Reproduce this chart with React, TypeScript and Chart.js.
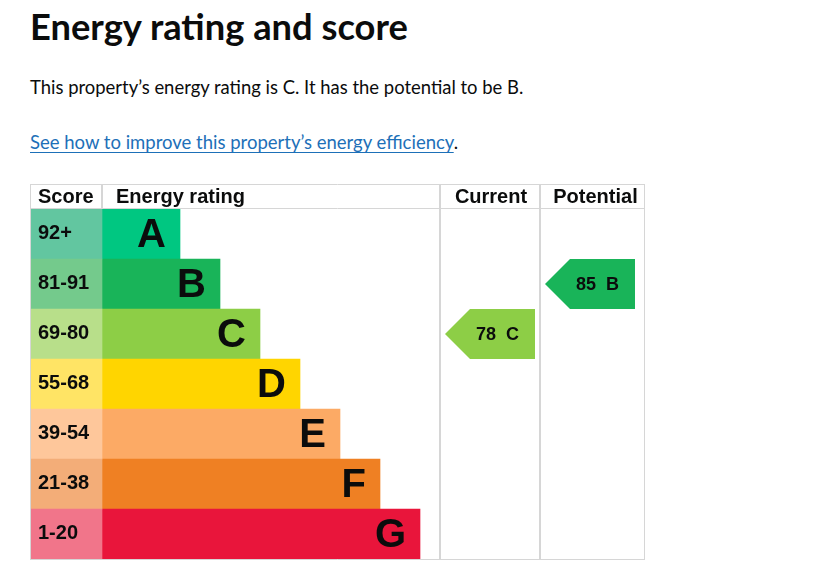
import React, { useEffect, useRef } from "react";
import { Chart, registerables } from "chart.js";

Chart.register(...registerables);

// ---- data ----
const ratings = ["A", "B", "C", "D", "E", "F", "G"];
const scoreRanges = ["92+", "81-91", "69-80", "55-68", "39-54", "21-38", "1-20"];
const bandMin = [92, 81, 69, 55, 39, 21, 1];
const barLengths = [78, 118, 158, 198, 238, 278, 318];
const bandColors = ["#00c781", "#19b459", "#8dce46", "#ffd500", "#fcaa65", "#ef8023", "#e9153b"];
const scoreColors = ["#62c6a0", "#74ca8c", "#b8df8a", "#ffe465", "#fec79b", "#f3ad78", "#f1758a"];
const currentScore = 78;
const potentialScore = 85;
const headers = ["Score", "Energy rating", "Current", "Potential"];

// ---- layout (x units == px) ----
const TABLE_W = 615;
const SCORE_COL = 72;
const CUR_COL = [410, 510];
const POT_COL = [510, 615];
const ARROW_W = 90;
const HEADER_H = 25;
const FONT = "Arial, 'Liberation Sans', sans-serif";

function bandIndex(score: number) {
  return bandMin.findIndex((m) => score >= m);
}

const tablePlugin = {
  id: "epcTable",
  afterDatasetsDraw(chart: any) {
    const { ctx, chartArea, scales } = chart;
    const x = scales.x;
    const y = scales.y;
    const px = (v: number) => x.getPixelForValue(v);
    const top = chartArea.top;
    const bottom = chartArea.bottom;
    const hTop = top - HEADER_H;
    const rowH = y.getPixelForValue(1) - y.getPixelForValue(0);
    ctx.save();

    // grid lines
    ctx.strokeStyle = "#d6d6d6";
    const line = (x1: number, y1: number, x2: number, y2: number, w = 1) => {
      ctx.lineWidth = w;
      ctx.beginPath();
      ctx.moveTo(x1, y1);
      ctx.lineTo(x2, y2);
      ctx.stroke();
    };
    line(px(0), hTop + 0.5, px(TABLE_W), hTop + 0.5);
    line(px(0), top - 0.5, px(TABLE_W), top - 0.5);
    line(px(0), bottom + 0.5, px(TABLE_W), bottom + 0.5);
    line(px(0) + 0.5, hTop, px(0) + 0.5, bottom + 1);
    line(px(SCORE_COL), hTop, px(SCORE_COL), top, 2);
    line(px(CUR_COL[0]), hTop, px(CUR_COL[0]), bottom + 1, 2);
    line(px(POT_COL[0]), hTop, px(POT_COL[0]), bottom + 1, 2);
    line(px(TABLE_W) - 0.5, hTop, px(TABLE_W) - 0.5, bottom + 1);

    // header
    ctx.fillStyle = "#0b0c0c";
    ctx.font = `bold 20px ${FONT}`;
    ctx.textBaseline = "alphabetic";
    const hb = hTop + 19;
    ctx.textAlign = "left";
    ctx.fillText(headers[0], px(8), hb);
    ctx.fillText(headers[1], px(86), hb);
    ctx.textAlign = "center";
    ctx.fillText(headers[2], (px(CUR_COL[0]) + px(CUR_COL[1])) / 2 + 1, hb);
    ctx.fillText(headers[3], (px(POT_COL[0]) + px(POT_COL[1])) / 2 + 3, hb);

    // score labels and letters
    ratings.forEach((r, i) => {
      const cy = y.getPixelForValue(i);
      ctx.fillStyle = "#0b0c0c";
      ctx.textAlign = "left";
      ctx.font = `bold 20px ${FONT}`;
      ctx.fillText(scoreRanges[i], px(8), cy + 5);
      ctx.textAlign = "right";
      ctx.font = `bold 40px ${FONT}`;
      ctx.fillText(r, px(SCORE_COL + barLengths[i]) - 14, cy + 12.5);
    });

    // arrows
    const arrow = (score: number, col: number[]) => {
      const bi = bandIndex(score);
      const cy = y.getPixelForValue(bi);
      const t = cy - rowH / 2;
      const b = cy + rowH / 2;
      const l = px(col[0] + 5);
      const rgt = px(col[0] + 5 + ARROW_W);
      const notch = rowH / 2;
      ctx.fillStyle = bandColors[bi];
      ctx.beginPath();
      ctx.moveTo(l, cy);
      ctx.lineTo(l + notch, t);
      ctx.lineTo(rgt, t);
      ctx.lineTo(rgt, b);
      ctx.lineTo(l + notch, b);
      ctx.closePath();
      ctx.fill();
      ctx.fillStyle = "#0b0c0c";
      ctx.font = `bold 18px ${FONT}`;
      ctx.textAlign = "right";
      ctx.fillText(`${score}  ${ratings[bi]}`, rgt - 16, cy + 5.5);
    };
    arrow(currentScore, CUR_COL);
    arrow(potentialScore, POT_COL);

    ctx.restore();
  },
};

function EpcChart() {
  const ref = useRef<HTMLCanvasElement>(null);
  useEffect(() => {
    if (!ref.current) return;
    const chart = new Chart(ref.current, {
      type: "bar",
      data: {
        labels: ratings,
        datasets: [
          {
            data: ratings.map(() => [0, SCORE_COL]) as any,
            backgroundColor: scoreColors,
            borderWidth: 0,
            barPercentage: 1,
            categoryPercentage: 1,
            grouped: false,
          },
          {
            data: barLengths.map((l) => [SCORE_COL, SCORE_COL + l]) as any,
            backgroundColor: bandColors,
            borderWidth: 0,
            barPercentage: 1,
            categoryPercentage: 1,
            grouped: false,
          },
        ],
      },
      options: {
        indexAxis: "y",
        animation: false,
        responsive: false,
        events: [],
        layout: { padding: { left: 10, right: 15, top: 29, bottom: 6 } },
        plugins: { legend: { display: false }, tooltip: { enabled: false } },
        scales: {
          x: { type: "linear", min: 0, max: TABLE_W, display: false },
          y: { type: "category", display: false, offset: true },
        },
      },
      plugins: [tablePlugin],
    });
    return () => chart.destroy();
  }, []);
  return <canvas ref={ref} width={640} height={385} style={{ position: "absolute", left: 12, top: 172, width: 640, height: 385 }} />;
}

export default function App() {
  const textFont = "Lato, 'Noto Sans', Arial, sans-serif";
  return (
    <div style={{ position: "relative", width: 815, height: 570, color: "#0b0c0c" }}>
      <div style={{ position: "absolute", left: 22, top: -6, fontFamily: textFont, fontWeight: 700, fontSize: 36.3, lineHeight: "48px", whiteSpace: "nowrap" }}>
        Energy rating and score
      </div>
      <div style={{ position: "absolute", left: 22, top: 66, fontFamily: textFont, fontSize: 18.45, lineHeight: "26px", whiteSpace: "nowrap" }}>
        This property’s energy rating is C. It has the potential to be B.
      </div>
      <div style={{ position: "absolute", left: 22, top: 121, fontFamily: textFont, fontSize: 18.5, lineHeight: "26px", whiteSpace: "nowrap" }}>
        <a href="#" style={{ color: "#1d70b8", textDecorationThickness: 1, textUnderlineOffset: 3 }}>
          See how to improve this property’s energy efficiency
        </a>
        .
      </div>
      <EpcChart />
    </div>
  );
}
